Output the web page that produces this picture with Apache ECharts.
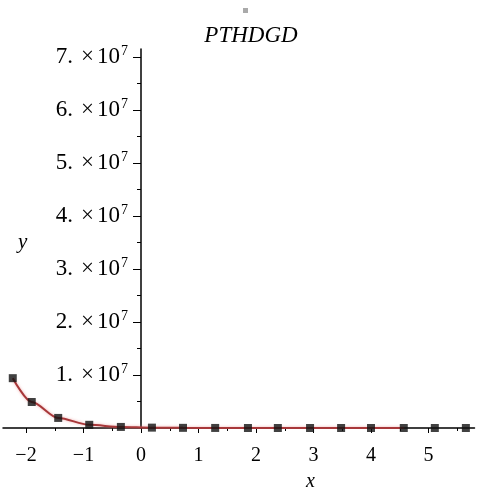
<!DOCTYPE html>
<html>
<head>
<meta charset="utf-8">
<script src="https://cdn.jsdelivr.net/npm/echarts@6/dist/echarts.min.js"></script>
<style>
  html, body { margin: 0; padding: 0; background: #fff; }
  #chart { width: 478px; height: 492px; }
</style>
</head>
<body>
<div id="chart"></div>
<script>
// data
var pointX = [-2.23, -1.90, -1.44, -0.90, -0.35, 0.19, 0.73, 1.29, 1.86, 2.38, 2.94, 3.48, 4.00, 4.57, 5.11, 5.65];
var pointY = [9.4e6, 4.9e6, 1.9e6, 0.6e6, 0.2e6, 0.07e6, 0.03e6, 0.01e6, 0, 0, 0, 0, 0, 0, 0, 0];
var curveX = [-2.23, -1.90, -1.44, -0.90, -0.35, 0.19, 0.73, 1.29, 1.86, 2.38, 2.94, 3.48, 4.00, 4.57];
var curveY = [9.4e6, 4.9e6, 1.9e6, 0.6e6, 0.2e6, 0.07e6, 0.03e6, 0.01e6, 0, 0, 0, 0, 0, 0];
var xTicks = [-2, -1, 0, 1, 2, 3, 4, 5];
var xMinorTicks = [-1.5, -0.5, 0.5, 1.5, 2.5, 3.5, 4.5, 5.5];
var yTicks = [1e7, 2e7, 3e7, 4e7, 5e7, 6e7, 7e7];
var yMinorTicks = [0.5e7, 1.5e7, 2.5e7, 3.5e7, 4.5e7, 5.5e7, 6.5e7];

var serif = "'Liberation Serif', 'DejaVu Serif', serif";
var xMin = -2.4, xMax = 5.8;
var gridLeft = 3, gridRight = 3.5;
// y axis sits at x = 0, shift it in from the grid's left edge
var yShift = (0 - xMin) / (xMax - xMin) * (478 - gridLeft - gridRight);

function pairs(xs, ys) {
  return xs.map(function (x, i) { return [x, ys[i]]; });
}

var chart = echarts.init(document.getElementById("chart"));

var option = {
  animation: false,
  title: {
    text: "PTHDGD",
    left: 246,
    top: 19,
    textAlign: "center",
    textStyle: { fontFamily: serif, fontStyle: "italic", fontWeight: "normal", fontSize: 23, color: "#000" }
  },
  graphic: [
    { type: "rect", left: 243, top: 8, shape: { width: 5, height: 5 }, style: { fill: "#aaa" } },
    { type: "text", left: 18, top: 232, style: { text: "y", font: "italic 21px " + serif, fill: "#000" } },
    { type: "text", left: 306, top: 472, style: { text: "x", font: "italic 20px " + serif, fill: "#000" } }
  ],
  grid: { left: gridLeft, right: gridRight, top: 49, bottom: 64, containLabel: false, outerBoundsMode: "none" },
  xAxis: [
    {
      type: "value", min: xMin, max: xMax,
      axisLine: { onZero: false, lineStyle: { color: "#000", width: 1.5 } },
      axisTick: { customValues: xTicks, length: 5, lineStyle: { color: "#000" } },
      axisLabel: {
        customValues: xTicks, margin: 18, fontFamily: serif, fontSize: 20, color: "#000",
        formatter: function (v) { return v < 0 ? "\u2212" + (-v) : String(v); }
      },
      splitLine: { show: false }
    },
    {
      type: "value", min: xMin, max: xMax, position: "bottom",
      axisLine: { show: false, onZero: false },
      axisTick: { customValues: xMinorTicks, length: 3, lineStyle: { color: "#000" } },
      axisLabel: { show: false },
      splitLine: { show: false }
    }
  ],
  yAxis: [
    {
      type: "value", min: 0, max: 7.15e7, position: "left", offset: -yShift,
      axisLine: { onZero: false, lineStyle: { color: "#000", width: 1.5 } },
      axisTick: { customValues: yTicks, length: 8, lineStyle: { color: "#000" } },
      axisLabel: {
        customValues: yTicks,
        margin: 13,
        formatter: function (v) {
          return "{n|" + Math.round(v / 1e7) + ".}{x|\u00d7}{t|10}{s|7}";
        },
        rich: {
          n: { fontFamily: serif, fontSize: 23, color: "#000" },
          x: { fontFamily: serif, fontSize: 23, color: "#000", padding: [0, 3, 0, 8] },
          t: { fontFamily: serif, fontSize: 23, color: "#000" },
          s: { fontFamily: serif, fontSize: 14, color: "#000", padding: [0, 0, 11, 1] }
        }
      },
      splitLine: { show: false }
    },
    {
      type: "value", min: 0, max: 7.15e7, position: "left", offset: -yShift,
      axisLine: { show: false, onZero: false },
      axisTick: { customValues: yMinorTicks, length: 4, lineStyle: { color: "#000" } },
      axisLabel: { show: false },
      splitLine: { show: false }
    }
  ],
  series: [
    {
      type: "line",
      data: pairs(curveX, curveY),
      smooth: 0.3,
      smoothMonotone: "x",
      showSymbol: false,
      lineStyle: { color: "#a8383a", width: 2, shadowColor: "rgba(230,120,120,0.6)", shadowBlur: 3 },
      z: 3
    },
    {
      type: "scatter",
      data: pairs(pointX, pointY),
      symbol: "rect",
      symbolSize: 8,
      itemStyle: { color: "#111" },
      z: 4
    }
  ]
};

chart.setOption(option);
</script>
</body>
</html>
